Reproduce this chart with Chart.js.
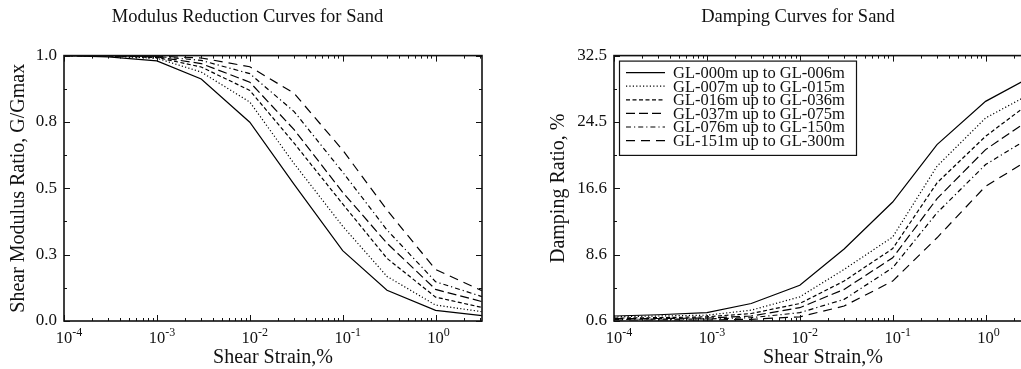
<!DOCTYPE html>
<html>
<head>
<meta charset="utf-8">
<script src="https://cdn.jsdelivr.net/npm/chart.js@4.4.1/dist/chart.umd.min.js"></script>
<style>
    html, body { margin: 0; padding: 0; background: #fff; overflow: hidden; }
    body { width: 1021px; height: 369px; position: relative; }
    .box { position: absolute; top: 0; height: 369px; }
    #leftBox { left: 0; width: 506px; }
    #rightBox { left: 540px; width: 540px; }
</style>
</head>
<body>
<div class="box" id="leftBox"><canvas id="modulusChart"></canvas></div>
<div class="box" id="rightBox"><canvas id="dampingChart"></canvas></div>
<script>
// Shear strain, % (x values of every curve)
const strain = [1e-4, 3e-4, 1e-3, 3e-3, 1e-2, 3e-2, 1e-1, 3e-1, 1, 3.16];

const layerNames = [
    "GL-000m up to GL-006m",
    "GL-007m up to GL-015m",
    "GL-016m up to GL-036m",
    "GL-037m up to GL-075m",
    "GL-076m up to GL-150m",
    "GL-151m up to GL-300m"
];

// G/Gmax per layer
const modGL006 = [1.0, 0.995, 0.980, 0.912, 0.749, 0.515, 0.265, 0.116, 0.040, 0.020];
const modGL015 = [1.0, 0.998, 0.990, 0.938, 0.825, 0.593, 0.357, 0.168, 0.060, 0.035];
const modGL036 = [1.0, 0.999, 0.993, 0.957, 0.869, 0.670, 0.441, 0.236, 0.090, 0.051];
const modGL075 = [1.0, 0.999, 0.995, 0.970, 0.900, 0.721, 0.485, 0.293, 0.119, 0.073];
const modGL150 = [1.0, 1.0, 0.997, 0.982, 0.932, 0.789, 0.561, 0.343, 0.148, 0.092];
const modGL300 = [1.0, 1.0, 0.998, 0.991, 0.958, 0.858, 0.644, 0.418, 0.194, 0.114];

// Damping ratio, % per layer
const dampGL006 = [1.2, 1.35, 1.6, 2.7, 4.9, 9.25, 14.9, 21.8, 27.0, 30.0];
const dampGL015 = [1.1, 1.2, 1.3, 1.9, 3.5, 6.8, 10.7, 19.2, 25.0, 28.0];
const dampGL036 = [0.95, 1.0, 1.1, 1.5, 2.7, 5.4, 9.3, 17.2, 22.8, 27.0];
const dampGL075 = [0.88, 0.9, 0.95, 1.2, 2.2, 4.4, 8.2, 15.3, 21.2, 25.0];
const dampGL150 = [0.8, 0.82, 0.85, 1.0, 1.6, 3.2, 7.0, 13.6, 19.4, 22.8];
const dampGL300 = [0.72, 0.72, 0.72, 0.8, 1.1, 2.4, 5.4, 10.6, 16.8, 20.2];

// Tick labels
const strainExponents = [-4, -3, -2, -1, 0];
const modulusTickLabels = ["0.0", "0.3", "0.5", "0.8", "1.0"];
const dampingTickLabels = ["0.6", "8.6", "16.6", "24.5", "32.5"];

const serif = "'Liberation Serif', 'Times New Roman', serif";
const ink = "#111";
const dashes = [[], [1.2, 2.2], [4, 2.5], [9, 4], [5, 3, 1.2, 3], [9, 6]];

function makeDatasets(series) {
    return series.map((vals, i) => ({
        label: layerNames[i],
        data: strain.map((s, j) => ({ x: s, y: vals[j] })),
        borderColor: "#000",
        borderWidth: 1.2,
        borderDash: dashes[i],
        pointRadius: 0,
        fill: false,
        tension: 0
    }));
}

// log-axis ticks: decades are major, 2..9 minor
function strainTicks(scale) {
    const ticks = [];
    strainExponents.forEach(e => {
        for (let k = 1; k <= 9; k++) {
            const v = k * Math.pow(10, e);
            if (v <= scale.max * 1.0001) ticks.push({ value: v, major: k === 1 });
        }
    });
    return ticks;
}

// chart heading, centred on a given x inside the canvas
const headingPlugin = {
    id: "heading",
    afterDraw(chart, args, opts) {
        const ctx = chart.ctx;
        ctx.save();
        ctx.fillStyle = ink;
        ctx.font = "18.5px " + serif;
        ctx.textAlign = "center";
        ctx.textBaseline = "middle";
        ctx.fillText(opts.text, opts.cx, 17);
        ctx.restore();
    }
};

// frame with inward ticks on four sides, plus 10^n labels
const framePlugin = {
    id: "frame",
    afterDatasetsDraw(chart) {
        const { ctx, chartArea: a, scales: { x, y } } = chart;
        ctx.save();
        ctx.strokeStyle = ink;
        ctx.lineWidth = 1;
        ctx.beginPath();
        x.ticks.forEach(t => {
            const px = Math.round(x.getPixelForValue(t.value)) + 0.5;
            const len = t.major ? 6 : 3;
            ctx.moveTo(px, a.bottom); ctx.lineTo(px, a.bottom - len);
            ctx.moveTo(px, a.top); ctx.lineTo(px, a.top + len);
        });
        y.ticks.forEach((t, i) => {
            const py = Math.round(y.getPixelForValue(t.value)) + 0.5;
            const len = i % 2 === 0 ? 6 : 3;
            ctx.moveTo(a.left, py); ctx.lineTo(a.left + len, py);
            ctx.moveTo(a.right, py); ctx.lineTo(a.right - len, py);
        });
        ctx.stroke();
        ctx.lineWidth = 1.6;
        ctx.strokeRect(a.left, a.top, a.right - a.left, a.bottom - a.top);

        // decade labels
        ctx.fillStyle = ink;
        ctx.textBaseline = "alphabetic";
        strainExponents.forEach(e => {
            const px = x.getPixelForValue(Math.pow(10, e));
            ctx.font = "16.5px " + serif;
            ctx.textAlign = "center";
            ctx.fillText("10", px, a.bottom + 22);
            const w = ctx.measureText("10").width;
            ctx.font = "12px " + serif;
            ctx.textAlign = "left";
            ctx.fillText(String(e), px + w / 2, a.bottom + 15);
        });
        ctx.restore();
    }
};

// boxed legend inside the plot area (top-left)
const boxLegendPlugin = {
    id: "boxLegend",
    afterDatasetsDraw(chart, args, opts) {
        if (!opts.show) return;
        const { ctx, chartArea: a } = chart;
        const sets = chart.data.datasets;
        const left = a.left + 5, top = a.top + 5;
        const rowH = 13.6, w = 237, h = sets.length * rowH + 12.7;
        ctx.save();
        ctx.fillStyle = "#fff";
        ctx.fillRect(left, top, w, h);
        ctx.strokeStyle = ink;
        ctx.lineWidth = 1.2;
        ctx.strokeRect(left + 0.5, top + 0.5, w, h);
        ctx.font = "16.5px " + serif;
        ctx.textBaseline = "middle";
        ctx.fillStyle = ink;
        sets.forEach((ds, i) => {
            const cy = top + 12 + rowH * i;
            ctx.beginPath();
            ctx.setLineDash(ds.borderDash);
            ctx.lineWidth = ds.borderWidth;
            ctx.strokeStyle = "#000";
            ctx.moveTo(left + 7, cy);
            ctx.lineTo(left + 46, cy);
            ctx.stroke();
            ctx.setLineDash([]);
            ctx.fillText(ds.label, left + 54, cy + 1);
        });
        ctx.restore();
    }
};

function makeChart(id, cfg) {
    const yTicks = cfg.yLabels;
    return new Chart(document.getElementById(id), {
        type: "line",
        data: { datasets: makeDatasets(cfg.series) },
        options: {
            animation: false,
            responsive: true,
            maintainAspectRatio: false,
            layout: { padding: { left: 0, right: cfg.padRight, top: 55.6, bottom: 0 } },
            plugins: {
                legend: { display: false },
                tooltip: { enabled: false },
                title: { display: false },
                heading: { text: cfg.title, cx: cfg.titleX },
                boxLegend: { show: cfg.legend }
            },
            scales: {
                x: {
                    type: "logarithmic",
                    min: 1e-4,
                    max: 3.16,
                    grid: { display: false, drawTicks: false },
                    border: { display: false },
                    ticks: { display: false },
                    afterBuildTicks: s => { s.ticks = strainTicks(s); },
                    afterFit: s => { s.height = 48; },
                    title: {
                        display: true, text: "Shear Strain,%", color: ink,
                        font: { family: serif, size: 20 }, padding: { top: 0, bottom: -1 }
                    }
                },
                y: {
                    min: cfg.yMin,
                    max: cfg.yMax,
                    grid: { display: false, drawTicks: false },
                    border: { display: false },
                    afterBuildTicks: s => {
                        const step = (cfg.yMax - cfg.yMin) / 8;
                        s.ticks = Array.from({ length: 9 }, (_, i) => ({ value: cfg.yMin + i * step }));
                    },
                    ticks: {
                        autoSkip: false,
                        color: ink,
                        padding: 7,
                        font: { family: serif, size: 17 },
                        callback: (v, i) => (i % 2 === 0 ? yTicks[i / 2] : "")
                    },
                    afterFit: s => { s.width = cfg.yWidth; },
                    title: {
                        display: true, text: cfg.yTitle, color: ink,
                        font: { family: serif, size: 20 }, padding: { top: 7, bottom: 0 }
                    }
                }
            }
        },
        plugins: [framePlugin, boxLegendPlugin, headingPlugin]
    });
}

makeChart("modulusChart", {
    title: "Modulus Reduction Curves for Sand",
    titleX: 247.5,
    series: [modGL006, modGL015, modGL036, modGL075, modGL150, modGL300],
    yMin: 0, yMax: 1,
    yLabels: modulusTickLabels,
    yTitle: "Shear Modulus Ratio, G/Gmax",
    yWidth: 64, padRight: 24, legend: false
});

makeChart("dampingChart", {
    title: "Damping Curves for Sand",
    titleX: 258,
    series: [dampGL006, dampGL015, dampGL036, dampGL075, dampGL150, dampGL300],
    yMin: 0.6, yMax: 32.5,
    yLabels: dampingTickLabels,
    yTitle: "Damping Ratio, %",
    yWidth: 74, padRight: 48, legend: true
});
</script>
</body>
</html>
